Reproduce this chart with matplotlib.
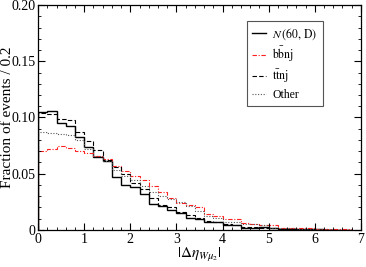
import numpy as np
import matplotlib
matplotlib.use("Agg")
import matplotlib.pyplot as plt
from matplotlib.ticker import MultipleLocator

plt.rcParams['font.family'] = ['Liberation Serif', 'DejaVu Serif']
plt.rcParams['mathtext.fontset'] = 'stix'

bin_edges = np.round(np.arange(0, 6.8001, 0.2), 2)

n60d = [0.105, 0.106, 0.095, 0.092, 0.083, 0.0735, 0.065, 0.0615, 0.047, 0.040,
        0.038, 0.032, 0.023, 0.021, 0.018, 0.015, 0.011, 0.010, 0.007, 0.007,
        0.004, 0.004, 0.002, 0.002, 0.003, 0.002, 0.001, 0.001, 0.0008, 0.0006,
        0.0004, 0.0003, 0.0, 0.0]
bbnj = [0.070, 0.072, 0.075, 0.073, 0.070, 0.068, 0.066, 0.063, 0.057, 0.052,
        0.048, 0.044, 0.039, 0.034, 0.028, 0.024, 0.022, 0.020, 0.014, 0.012,
        0.0095, 0.0095, 0.0065, 0.0055, 0.0045, 0.004, 0.002, 0.002, 0.0018, 0.0015,
        0.0012, 0.001, 0.0008, 0.0006]
ttnj = [0.104, 0.103, 0.099, 0.098, 0.087, 0.079, 0.071, 0.062, 0.056, 0.050,
        0.042, 0.036, 0.028, 0.0225, 0.020, 0.016, 0.013, 0.011, 0.008, 0.007,
        0.005, 0.004, 0.003, 0.0025, 0.002, 0.0015, 0.001, 0.0008, 0.0006, 0.0004,
        0.0003, 0.0002, 0.0, 0.0]
other = [0.087, 0.086, 0.085, 0.084, 0.080, 0.072, 0.066, 0.061, 0.053, 0.048,
         0.044, 0.039, 0.0335, 0.0305, 0.0276, 0.0246, 0.0216, 0.017, 0.0124, 0.0104,
         0.0074, 0.0074, 0.005, 0.005, 0.004, 0.002, 0.0018, 0.0015, 0.001, 0.0008,
         0.0006, 0.0005, 0.0003, 0.0002]

labels = [r'$N\,\mathrm{(60,\,D)}$', r'$\mathrm{b\bar{b}nj}$', r'$\mathrm{t\bar{t}nj}$', 'Other']

fig = plt.figure(figsize=(3.66, 2.67), dpi=100)
ax = fig.add_axes([0.104, 0.139, 0.882, 0.842])

ax.stairs(n60d, bin_edges, color='black', lw=1.0, ls='-', label=labels[0])
ax.stairs(bbnj, bin_edges, color='#ff2020', lw=0.8, ls=(0, (4, 1.5, 1, 1.5)), label=labels[1])
ax.stairs(ttnj, bin_edges, color='black', lw=0.8, ls=(0, (4, 2)), label=labels[2])
ax.stairs(other, bin_edges, color='#555555', lw=0.8, ls=(0, (1, 1.5)), label=labels[3])

ax.set_xlim(0, 7)
ax.set_ylim(0, 0.2)
ax.xaxis.set_minor_locator(MultipleLocator(0.2))
ax.yaxis.set_minor_locator(MultipleLocator(0.01))
ax.set_yticks([0, 0.05, 0.10, 0.15, 0.20])
ax.set_yticklabels(['0', '0.05', '0.10', '0.15', '0.20'])
ax.set_xticks(range(8))
ax.set_xticklabels([str(i) for i in range(8)])
ax.tick_params(which='both', direction='in', top=True, right=True, labelsize=10, pad=2)
ax.tick_params(which='major', length=5, width=0.8)
ax.tick_params(which='minor', length=2.5, width=0.6)
for s in ax.spines.values():
    s.set_linewidth(0.9)

ax.set_xlabel(r'$|\Delta\eta_{W\mu_2}|$', fontsize=11, labelpad=0)
ax.set_ylabel('Fraction of events / 0.2', fontsize=11)
ax.yaxis.set_label_coords(-0.076, 0.5)

leg = ax.legend(loc='upper right', bbox_to_anchor=(0.882, 0.93), fontsize=8.5,
                handlelength=1.2, handletextpad=0.5, labelspacing=0.3,
                borderpad=0.45, borderaxespad=0, fancybox=False, framealpha=1,
                edgecolor='#555555')
leg.get_frame().set_linewidth(0.8)

fig.savefig('out.png', dpi=100)
